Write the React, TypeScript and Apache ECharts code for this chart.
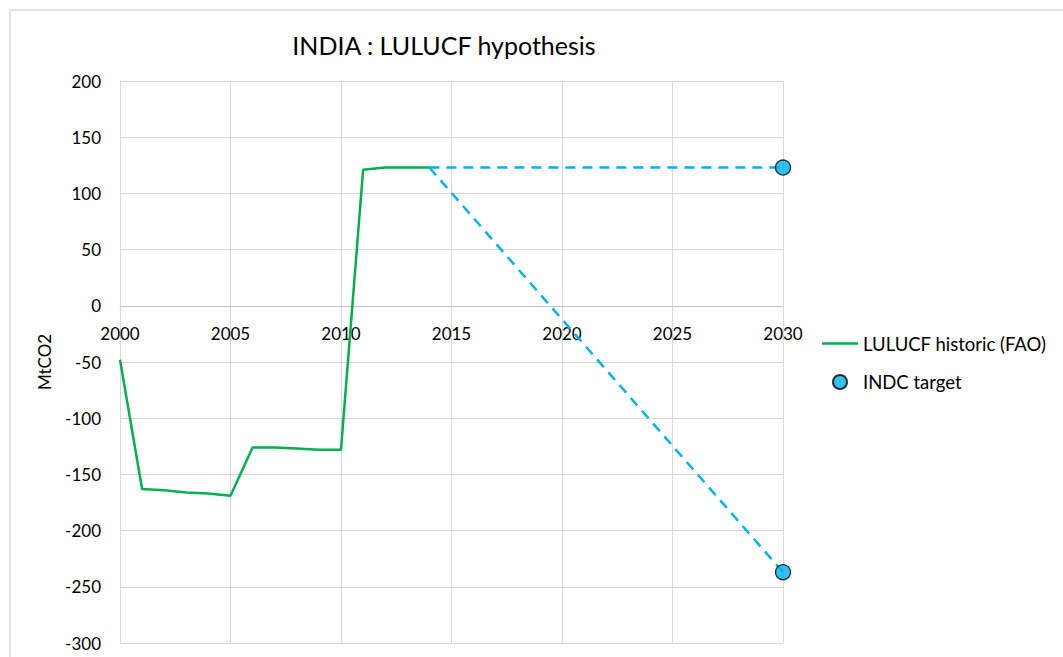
import React, { useEffect, useRef } from "react";
import * as echarts from "echarts";

const titleText = "INDIA : LULUCF hypothesis";
const yAxisName = "MtCO2";
const historicName = "LULUCF historic (FAO)";
const targetName = "INDC target";

const historicYears = [2000, 2001, 2002, 2003, 2004, 2005, 2006, 2007, 2008, 2009, 2010, 2011, 2012, 2013, 2014];
const historicValues = [-48, -163, -164, -166, -167, -169, -126, -126, -127, -128, -128, 121, 123, 123, 123];

const targetYear = 2030;
const targetValues = [123, -237];

const yMin = -300;
const yMax = 200;
const yStep = 50;
const xMin = 2000;
const xMax = 2030;
const xStep = 5;

const FONT = "Lato, 'Open Sans', sans-serif";

const GRID_TOP = 81;
const GRID_BOTTOM_PX = 643;
const CHART_H = 657;

export default function App() {
  const ref = useRef<HTMLDivElement>(null);

  useEffect(() => {
    if (!ref.current) return;
    const chart = echarts.init(ref.current, undefined, { renderer: "svg" });

    const lastYear = historicYears[historicYears.length - 1];
    const lastValue = historicValues[historicValues.length - 1];

    // place the x axis at y = 0 via offset from the bottom of the grid
    const plotH = GRID_BOTTOM_PX - GRID_TOP;
    const zeroFromBottom = (plotH * (0 - yMin)) / (yMax - yMin);

    const dashedSeries = targetValues.map((v, i) => ({
      name: "proj" + i,
      type: "line",
      data: [
        [lastYear, lastValue],
        [targetYear, v],
      ],
      symbol: "none",
      lineStyle: { color: "#00b0f0", width: 2.5, type: [10, 7] },
      z: 2,
      silent: true,
    }));

    chart.setOption({
      animation: false,
      backgroundColor: "#ffffff",
      textStyle: { fontFamily: FONT },
      grid: {
        left: 120,
        top: GRID_TOP,
        right: 280,
        bottom: CHART_H - GRID_BOTTOM_PX,
        containLabel: false,
        outerBoundsMode: "none",
      },
      graphic: [
        {
          type: "rect",
          shape: { x: 10, y: 10, width: 1060, height: 660 },
          style: { fill: "none", stroke: "#d9d9d9", lineWidth: 1.5 },
          z: -10,
          silent: true,
        },
        {
          type: "text",
          x: 444,
          y: 45,
          style: {
            text: titleText,
            fontFamily: FONT,
            fontSize: 25,
            fill: "#000000",
            textAlign: "center",
            textVerticalAlign: "middle",
          },
        },
      ],
      legend: {
        orient: "vertical",
        left: 822,
        top: 334,
        padding: 0,
        itemWidth: 36,
        itemHeight: 14,
        itemGap: 19.5,
        data: [
          { name: historicName, icon: "path://M0,0 L36,0 L36,2.5 L0,2.5 Z" },
          { name: targetName, icon: "circle" },
        ],
        textStyle: { fontFamily: FONT, fontSize: 18.5, color: "#000000" },
      },
      xAxis: {
        type: "value",
        min: xMin,
        max: xMax,
        interval: xStep,
        position: "bottom",
        offset: -zeroFromBottom,
        axisLine: { show: true, onZero: false, lineStyle: { color: "#bfbfbf", width: 1 } },
        axisTick: { show: false },
        axisLabel: {
          fontFamily: FONT,
          fontSize: 17,
          color: "#000000",
          margin: 19,
          formatter: (v: number) => String(v),
        },
        splitLine: { show: true, lineStyle: { color: "#d9d9d9", width: 1 } },
      },
      yAxis: {
        type: "value",
        min: yMin,
        max: yMax,
        interval: yStep,
        name: yAxisName,
        nameLocation: "middle",
        nameRotate: 90,
        nameGap: 67,
        nameTextStyle: { fontFamily: FONT, fontSize: 17, color: "#000000" },
        axisLine: { show: true, onZero: false, lineStyle: { color: "#d9d9d9", width: 1 } },
        axisTick: { show: false },
        axisLabel: { fontFamily: FONT, fontSize: 17, color: "#000000", margin: 19 },
        splitLine: { show: true, lineStyle: { color: "#d9d9d9", width: 1 } },
      },
      series: [
        {
          name: historicName,
          type: "line",
          data: historicYears.map((y, i) => [y, historicValues[i]]),
          symbol: "none",
          lineStyle: { color: "#00b050", width: 2.5 },
          itemStyle: { color: "#00b050" },
          z: 3,
        },
        ...dashedSeries,
        {
          name: targetName,
          type: "scatter",
          data: targetValues.map((v) => [targetYear, v]),
          symbol: "circle",
          symbolSize: 15,
          itemStyle: { color: "#00b0f0", borderColor: "#000000", borderWidth: 1.3 },
          clip: false,
          z: 4,
        },
      ],
    });

    return () => chart.dispose();
  }, []);

  return (
    <div
      ref={ref}
      style={{ position: "fixed", left: 0, top: 0, width: 1063, height: CHART_H }}
    />
  );
}
